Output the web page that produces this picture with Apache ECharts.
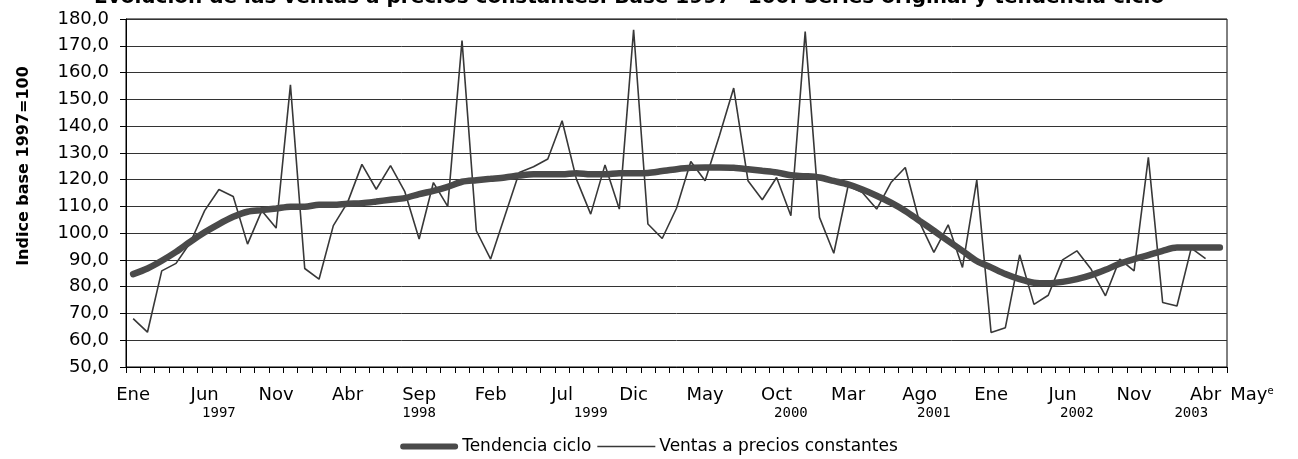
<!DOCTYPE html>
<html lang="es">
<head>
    <meta charset="UTF-8">
    <style>
        body { margin: 0; background: #fff; }
        #main { width: 1298px; height: 459px; }
    </style>
    <title>Ventas a precios constantes</title>
</head>
<body>
    <div id="main"></div>
    <script src="https://cdn.jsdelivr.net/npm/echarts@6/dist/echarts.min.js"></script>
    <script>
        // meses Ene 1997 .. May 2003
        var mesesNombre = ['Ene', 'Feb', 'Mar', 'Abr', 'May', 'Jun', 'Jul', 'Ago', 'Sep', 'Oct', 'Nov', 'Dic'];
        var anios = [1997, 1998, 1999, 2000, 2001, 2002, 2003];
        var categorias = [];
        anios.forEach(function (a) {
            mesesNombre.forEach(function (m, k) {
                if (a < 2003 || k < 5) categorias.push(m + ' ' + a);
            });
        });

        // Ventas a precios constantes (serie original), hasta Abr 2003
        var ventas = [
            68.1, 63.0, 85.9, 88.7, 96.5, 108.4, 116.3, 113.7, 95.9, 108.4,
            101.9, 155.4, 86.8, 82.8, 102.8, 111.5, 125.7, 116.4, 125.2, 115.5,
            97.8, 118.9, 110.0, 171.9, 100.9, 90.3, 106.5, 122.7, 124.8, 127.7,
            142.0, 120.2, 107.1, 125.5, 109.0, 176.0, 103.4, 98.0, 109.3, 126.8,
            119.6, 136.4, 154.2, 119.6, 112.5, 120.8, 106.5, 175.3, 105.9, 92.5,
            117.6, 115.2, 109.0, 118.9, 124.5, 104.0, 92.8, 103.1, 87.2, 119.8,
            62.9, 64.7, 91.9, 73.4, 76.8, 90.0, 93.4, 86.5, 76.6, 90.3,
            85.9, 128.3, 74.1, 72.8, 94.4, 90.5, null
        ];

        // Tendencia ciclo, hasta May 2003
        var tendencia = [
            84.7, 86.8, 89.7, 93.0, 96.8, 100.3, 103.4, 106.1, 108.0, 108.6,
            109.2, 109.9, 109.9, 110.6, 110.6, 111.0, 111.2, 111.8, 112.5, 113.1,
            114.6, 115.8, 117.3, 119.2, 119.8, 120.3, 120.8, 121.5, 122.0, 122.0,
            122.0, 122.4, 122.0, 122.0, 122.4, 122.4, 122.5, 123.2, 123.9, 124.4,
            124.5, 124.5, 124.4, 123.9, 123.3, 122.7, 121.6, 121.3, 120.8, 119.5,
            118.2, 116.3, 114.0, 111.4, 108.3, 104.6, 100.9, 97.1, 93.4, 89.6,
            87.2, 84.7, 82.8, 81.5, 81.3, 81.8, 82.8, 84.3, 86.3, 88.6,
            90.3, 91.8, 93.4, 94.6, 94.6, 94.6, 94.6
        ];

        // etiquetas de año bajo el eje (indice del mes donde van)
        var etiquetasAnio = { 6: '1997', 20: '1998', 32: '1999', 46: '2000', 56: '2001', 66: '2002', 74: '2003' };

        var fuente = 'DejaVu Sans, Liberation Sans, Arial, sans-serif';

        var option = {
            backgroundColor: '#fff',
            animation: false,
            title: {
                text: 'Evolución de las ventas a precios constantes. Base 1997=100. Series original y tendencia ciclo',
                left: 89,
                top: -17,
                textStyle: { fontFamily: fuente, fontWeight: 'bold', fontSize: 20, color: '#000' }
            },
            legend: {
                data: [{
                    name: 'Tendencia ciclo',
                    icon: 'path://M3,0 L57,0 A3,3 0 0 1 57,6 L3,6 A3,3 0 0 1 3,0 Z'
                }, {
                    name: 'Ventas a precios constantes',
                    icon: 'path://M0,0 L60,0 L60,1.6 L0,1.6 Z'
                }],
                bottom: -1,
                left: 'center',
                itemWidth: 58,
                itemHeight: 14,
                itemGap: 6,
                textStyle: { fontFamily: fuente, fontSize: 17, color: '#000', padding: [0, 0, 0, -1] }
            },
            grid: {
                left: 126,
                right: 71,
                top: 19,
                bottom: 92,
                show: true,
                borderColor: '#000',
                borderWidth: 1
            },
            xAxis: [{
                type: 'category',
                data: categorias,
                boundaryGap: true,
                axisLine: { lineStyle: { color: '#000', width: 1 } },
                axisTick: { show: true, interval: 0, length: 6, lineStyle: { color: '#000' } },
                axisLabel: {
                    interval: function (i) { return i % 5 === 0 || i === 76; },
                    margin: 19,
                    fontFamily: fuente,
                    fontSize: 18,
                    color: '#000',
                    formatter: function (v, i) {
                        var m = v.split(' ')[0];
                        if (i === 76) return '{may|' + m + '}{sup|e}';
                        return m;
                    },
                    rich: {
                        may: { fontFamily: fuente, fontSize: 18, color: '#000', padding: [0, 0, 0, 64] },
                        sup: { fontFamily: fuente, fontSize: 10, color: '#000', verticalAlign: 'top', lineHeight: 12 }
                    }
                },
                splitLine: { show: false }
            }, {
                type: 'category',
                data: categorias,
                position: 'bottom',
                offset: 31,
                axisLine: { show: false },
                axisTick: { show: false },
                axisLabel: {
                    interval: function (i) { return etiquetasAnio[i] !== undefined; },
                    formatter: function (v, i) { return etiquetasAnio[i] || ''; },
                    fontFamily: 'DejaVu Sans Mono, monospace',
                    fontSize: 14,
                    color: '#000'
                }
            }],
            yAxis: {
                type: 'value',
                min: 50,
                max: 180,
                interval: 10,
                name: 'Indice base 1997=100',
                nameLocation: 'middle',
                nameGap: 94,
                nameTextStyle: {
                    fontFamily: fuente, fontWeight: 'bold', fontSize: 16, color: '#000',
                    padding: [0, 0, 0, 54]
                },
                axisLine: { show: true, lineStyle: { color: '#000' } },
                axisTick: { show: true, length: 6, lineStyle: { color: '#000' } },
                axisLabel: {
                    fontFamily: fuente,
                    fontSize: 18,
                    color: '#000',
                    margin: 17,
                    formatter: function (v) { return v.toFixed(1).replace('.', ','); }
                },
                splitLine: { lineStyle: { color: '#333', width: 1 } }
            },
            series: [{
                name: 'Tendencia ciclo',
                type: 'line',
                data: tendencia,
                symbol: 'none',
                smooth: 0.3,
                z: 3,
                lineStyle: { color: '#4a4a4a', width: 6.5, cap: 'round' },
                itemStyle: { color: '#4a4a4a' }
            }, {
                name: 'Ventas a precios constantes',
                type: 'line',
                data: ventas,
                symbol: 'none',
                z: 2,
                lineStyle: { color: '#383838', width: 1.6 },
                itemStyle: { color: '#383838' }
            }]
        };

        var myChart = echarts.init(document.getElementById('main'));
        myChart.setOption(option);
    </script>
</body>
</html>
